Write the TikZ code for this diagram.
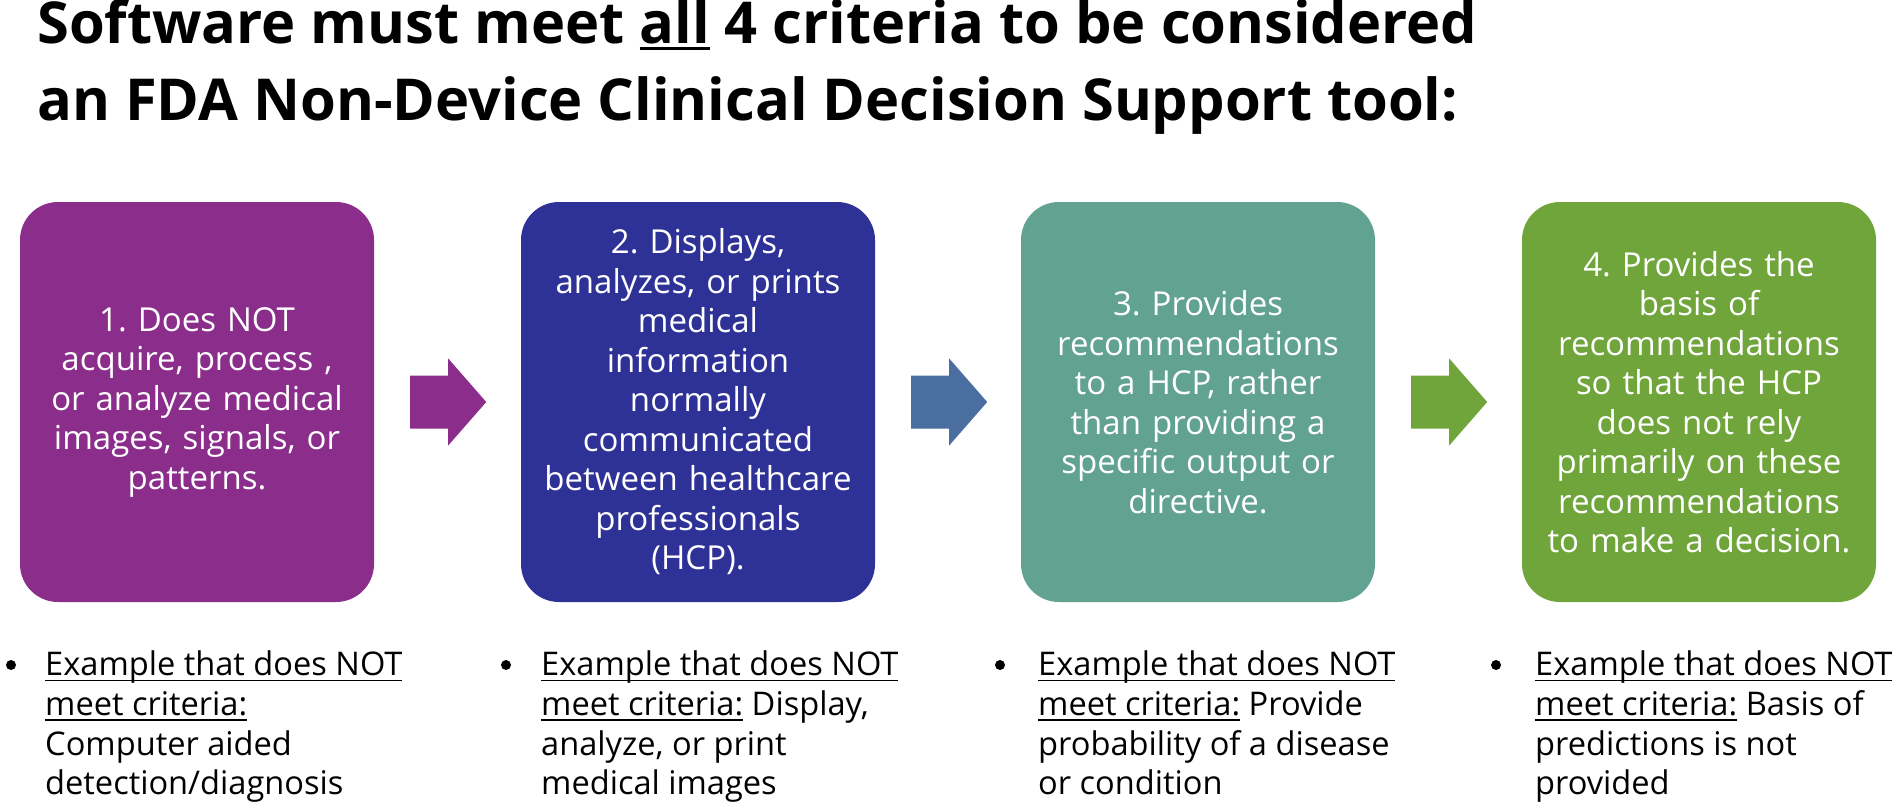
\documentclass[tikz,border=0pt]{standalone}
\usepackage{fontspec}
\setmainfont{Open Sans}
\newfontfamily\titlefont{Open Sans}
\usetikzlibrary{calc}
\frenchspacing
\definecolor{cA}{RGB}{138,45,139}
\definecolor{cB}{RGB}{46,49,150}
\definecolor{cBarrow}{RGB}{73,110,159}
\definecolor{cC}{RGB}{98,162,145}
\definecolor{cD}{RGB}{112,165,60}
\newcommand\ulx[1]{\setbox0=\hbox{#1}\rlap{\rule[-5.5pt]{\wd0}{1.8pt}}\box0\relax}
\newcommand\ult[1]{\setbox0=\hbox{#1}\rlap{\rule[-6.5pt]{\wd0}{2.6pt}}\box0\relax}
\tikzset{
  critbox/.style={rounded corners=38pt, minimum width=354pt, minimum height=400pt,
    inner sep=0pt, text width=345pt, align=center, text=white,
    font=\fontsize{33}{39.5}\selectfont},
  titletext/.style={anchor=base west, inner sep=0pt, font=\titlefont\bfseries\fontsize{57.8}{77}\selectfont},
  extext/.style={anchor=north west, inner sep=0pt, align=left,
    font=\fontsize{32.6}{39.6}\selectfont},
  bulletmark/.style={circle, fill=black, inner sep=0pt, minimum size=10pt}
}
\newcommand\blockarrow[2]{%
  \fill[#2] ($(#1.east)+(36,-26.5)$) -- ++(38,0) -- ++(0,-17) -- ++(38,43.5)
    -- ++(-38,43.5) -- ++(0,-17) -- ++(-38,0) -- cycle;}
\begin{document}
\begin{tikzpicture}[x=1pt,y=-1pt]
\useasboundingbox (0,0) rectangle (1900,804);
\node[titletext] (t1) at (37,43) {Software must meet \ult{all} 4 criteria to be considered};
\node[titletext] (t2) at (37,120) {an FDA Non-Device Clinical Decision Support tool:};

\node[critbox, fill=cA] (b1) at (197,402) {1. Does NOT\\acquire, process ,\\or analyze medical\\images, signals, or\\patterns.};
\node[critbox, fill=cB] (b2) at (698,402) {2. Displays,\\analyzes, or prints\\medical\\information\\normally\\communicated\\between healthcare\\professionals\\(HCP).};
\node[critbox, fill=cC] (b3) at (1198,402) {3. Provides\\recommendations\\to a HCP, rather\\than providing a\\specific output or\\directive.};
\node[critbox, fill=cD] (b4) at (1699,402) {4. Provides the\\basis of\\recommendations\\so that the HCP\\does not rely\\primarily on these\\recommendations\\to make a decision.};

\blockarrow{b1}{cA}
\blockarrow{b2}{cBarrow}
\blockarrow{b3}{cD}

\node[bulletmark] (d1) at (11,665) {};
\node[bulletmark] (d2) at (506,665) {};
\node[bulletmark] (d3) at (1000,665) {};
\node[bulletmark] (d4) at (1496,665) {};

\node[extext] (e1) at (45,651) {\ulx{Example that does NOT}\\\ulx{meet criteria:}\\Computer aided\\detection/diagnosis};
\node[extext] (e2) at (541,651) {\ulx{Example that does NOT}\\\ulx{meet criteria:} Display,\\analyze, or print\\medical images};
\node[extext] (e3) at (1038,651) {\ulx{Example that does NOT}\\\ulx{meet criteria:} Provide\\probability of a disease\\or condition};
\node[extext] (e4) at (1535,651) {\ulx{Example that does NOT}\\\ulx{meet criteria:} Basis of\\predictions is not\\provided};
\end{tikzpicture}
\end{document}
